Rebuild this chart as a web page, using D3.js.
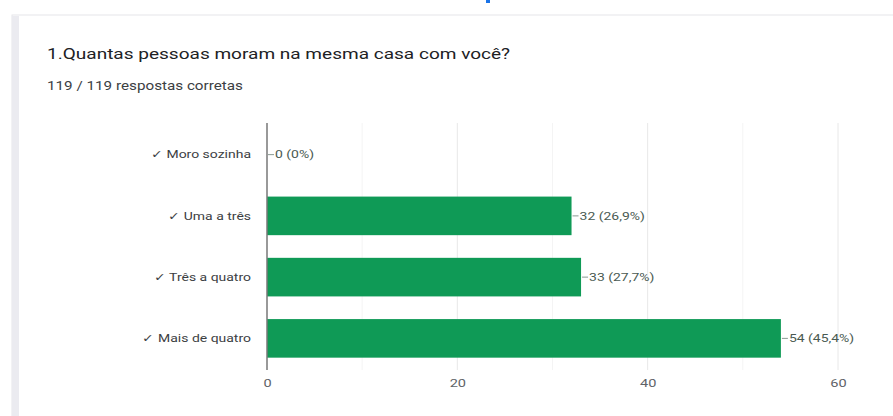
<!DOCTYPE html>
<html>
<head>
<meta charset="utf-8">
<script src="https://cdn.jsdelivr.net/npm/d3@7"></script>
<style>
  html, body { margin: 0; padding: 0; background: #ffffff; }
  svg { display: block; }
</style>
</head>
<body>
<svg id="chart" width="893" height="416"></svg>
<script>
// Answers to the household-size question
const categories = ["Moro sozinha", "Uma a três", "Três a quatro", "Mais de quatro"];
const counts = [0, 32, 33, 54];
const percentLabels = ["0%", "26,9%", "27,7%", "45,4%"];
const xTicks = [0, 20, 40, 60];
const minorTicks = [10, 30, 50];
const titleText = "1.Quantas pessoas moram na mesma casa com você?";
const subtitleText = "119 / 119 respostas corretas";

const svg = d3.select("#chart");
const font = "Roboto, Arial, sans-serif";
const stretch = 1.27; // wide text rendering

// places a horizontally widened text at (x, y)
function wideText(parent, x, y, size, color, anchor) {
  return parent.append("text")
    .attr("transform", `translate(${x},${y}) scale(${stretch},1)`)
    .attr("font-family", font).attr("font-size", size).attr("fill", color)
    .attr("text-anchor", anchor || "start");
}

// top accent mark
svg.append("rect").attr("x", 486).attr("y", 0).attr("width", 4).attr("height", 3).attr("fill", "#1a73e8");

// card
svg.append("rect").attr("x", 12).attr("y", 15).attr("width", 900).attr("height", 420)
  .attr("fill", "#ffffff").attr("stroke", "#e6e6ea").attr("stroke-width", 1);
svg.append("rect").attr("x", 12).attr("y", 16).attr("width", 7).attr("height", 400)
  .attr("fill", "#ebebf0");

wideText(svg, 47, 59, 15, "#202124").text(titleText);
wideText(svg, 47, 90, 12, "#3c4043").text(subtitleText);

const x = d3.scaleLinear().domain([0, 60]).range([267, 838]);
const y = d3.scaleBand().domain(categories).range([124, 369]).paddingInner(0.37).paddingOuter(0.185);

const plotTop = 123, plotBottom = 370;

// gridlines
svg.append("g").selectAll("line").data(minorTicks).join("line")
  .attr("x1", d => x(d)).attr("x2", d => x(d))
  .attr("y1", plotTop).attr("y2", plotBottom)
  .attr("stroke", "#f4f4f4").attr("stroke-width", 1);
svg.append("g").selectAll("line").data(xTicks.slice(1)).join("line")
  .attr("x1", d => x(d)).attr("x2", d => x(d))
  .attr("y1", plotTop).attr("y2", plotBottom)
  .attr("stroke", "#e8e8e8").attr("stroke-width", 1);

// bars
const data = categories.map((c, i) => ({ c, v: counts[i], p: percentLabels[i] }));
svg.append("g").selectAll("rect").data(data).join("rect")
  .attr("x", x(0)).attr("y", d => y(d.c))
  .attr("width", d => x(d.v) - x(0)).attr("height", y.bandwidth())
  .attr("fill", "#0f9a56");

// value labels with leader ticks
data.forEach(d => {
  const cx = x(d.v), cy = y(d.c) + y.bandwidth() / 2;
  svg.append("line").attr("x1", cx + 1).attr("x2", cx + 7).attr("y1", cy).attr("y2", cy)
    .attr("stroke", "#8a9a92").attr("stroke-width", 1);
  wideText(svg, cx + 8, cy, 11, "#4a5a52").attr("dy", "0.35em").text(`${d.v} (${d.p})`);
});

// category axis
svg.append("line").attr("x1", x(0)).attr("x2", x(0)).attr("y1", plotTop).attr("y2", plotBottom)
  .attr("stroke", "#777777").attr("stroke-width", 1.5);
categories.forEach(c => {
  wideText(svg, 251, y(c) + y.bandwidth() / 2, 11, "#3c4043", "end")
    .attr("dy", "0.35em").text("\u2713 " + c);
});

// value axis
const xAxis = d3.axisBottom(x).tickValues(xTicks).tickSize(0).tickPadding(9);
const ax = svg.append("g").attr("transform", `translate(0,${plotBottom})`).call(xAxis);
ax.select(".domain").remove();
ax.selectAll("text").attr("font-family", font).attr("font-size", 11.5).attr("fill", "#5f6368")
  .attr("transform", `scale(${stretch},1)`)
  .attr("x", function () { return 0; });
ax.selectAll(".tick").each(function () {
  // keep widened tick labels centred on their tick
  d3.select(this).select("text").attr("text-anchor", "middle");
});
</script>
</body>
</html>
